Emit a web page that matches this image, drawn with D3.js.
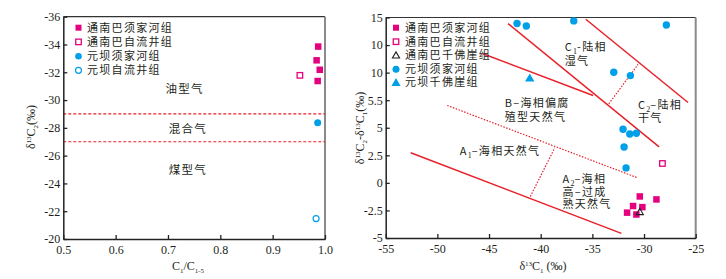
<!DOCTYPE html>
<html><head><meta charset="utf-8">
<script src="https://cdn.jsdelivr.net/npm/d3@7"></script>
<style>
body{margin:0;background:#fff}
svg{display:block}
text{fill:#231f20}
.num{font-family:"Liberation Serif","Times New Roman",serif;font-size:12px}
.cn{font-family:"Noto Sans CJK SC",sans-serif;font-size:11px;letter-spacing:1.3px}
</style>
</head><body><svg id="c" width="726" height="279"></svg>
<script>
// ---------- Left chart data (C1/C1-5 vs δ13C2) ----------
const leftLegend = ["通南巴须家河组","通南巴自流井组","元坝须家河组","元坝自流井组"];
const tnbXjhRatio = [0.987, 0.984, 0.990, 0.986];
const tnbXjhC2    = [-33.85, -32.86, -32.18, -31.37];
const tnbZljRatio = [0.952];
const tnbZljC2    = [-31.78];
const ybXjhRatio  = [0.986];
const ybXjhC2     = [-28.36];
const ybZljRatio  = [0.983];
const ybZljC2     = [-21.47];
const leftBoundaries = [-29, -27];
const leftZones = ["油型气","混合气","煤型气"];
const leftZoneX = [0.732, 0.738, 0.738];
const leftZoneY = [-30.8, -27.9, -25.0];
const leftXTicks = [0.5,0.6,0.7,0.8,0.9,1.0];
const leftXTickLabels = ["0.5","0.6","0.7","0.8","0.9","1.0"];
const leftYTicks = [-36,-34,-32,-30,-28,-26,-24,-22,-20];
const leftYTickLabels = ["-36","-34","-32","-30","-28","-26","-24","-22","-20"];

// ---------- Right chart data (δ13C1 vs δ13C2-δ13C1) ----------
const rightLegend = ["通南巴须家河组","通南巴自流井组","通南巴千佛崖组","元坝须家河组","元坝千佛崖组"];
const r_tnbXjhC1 = [-30.41, -28.8, -31.06, -30.16, -31.64, -30.74];
const r_tnbXjhD  = [-1.23, -1.5, -2.1, -2.2, -2.7, -2.87];
const r_tnbZljC1 = [-28.22];
const r_tnbZljD  = [1.76];
const r_tnbQfyC1 = [-30.41];
const r_tnbQfyD  = [-2.6];
const r_ybXjhC1  = [-42.29, -41.39, -36.8, -27.84, -32.93, -31.32, -32.03, -31.38, -30.74, -31.93, -31.74];
const r_ybXjhD   = [14.45, 14.23, 14.69, 14.32, 10.03, 9.73, 4.86, 4.43, 4.5, 3.25, 1.36];
const r_ybQfyC1  = [-41.06];
const r_ybQfyD   = [9.52];
// boundary lines: [x1,y1,x2,y2] in data units
const solidLines = [
  [-52.58, 2.73, -32.19, -4.58],
  [-43.16, 14.45, -28.54, 3.27],
  [-45.65, 11.74, -34.93, 7.93],
  [-35.64, 14.84, -25.74, 7.29]
];
const dottedLines = [
  [-49.04, 7.02, -30.68, 0.48],
  [-41.0, -1.23, -38.64, 3.18],
  [-33.41, 7.17, -30.58, 10.74]
];
const rightXTicks = [-55,-50,-45,-40,-35,-30,-25];
const rightXTickLabels = ["-55","-50","-45","-40","-35","-30","-25"];
const rightYTicks = [15,12.5,10,7.5,5,2.5,0,-2.5,-5];
const rightYTickLabels = ["15","10","10","5.5","5","2.5","0","-2.5","-5"];

const MAG = "#e5007f", CYAN = "#00a0e9", RED = "#e8202a";
const svg = d3.select("#c");

function frame(g, x, y){
  const [x0,x1] = x.range(), [y0,y1] = y.range();
  g.append("line").attr("x1",x0).attr("x2",x1).attr("y1",y1).attr("y2",y1).attr("stroke","#333").attr("stroke-width",1.2);
  g.append("line").attr("x1",x1).attr("x2",x1).attr("y1",y1).attr("y2",y0+1).attr("stroke","#8a8a8a").attr("stroke-width",2);
}
function axes(g, x, y, xt, xl, yt, yl){
  const ax = g.append("g").attr("transform",`translate(0,${y.range()[0]})`)
    .call(d3.axisBottom(x).tickValues(xt).tickFormat((d,i)=>xl[i]).tickSizeInner(-4).tickSizeOuter(0).tickPadding(6));
  const ay = g.append("g").attr("transform",`translate(${x.range()[0]},0)`)
    .call(d3.axisLeft(y).tickValues(yt).tickFormat((d,i)=>yl[i]).tickSizeInner(-4).tickSizeOuter(0).tickPadding(3));
  [ax,ay].forEach(a=>{
    a.select(".domain").attr("stroke","#222").attr("stroke-width",1.5);
    a.selectAll(".tick line").attr("stroke","#222").attr("stroke-width",1.3);
    a.selectAll("text").attr("class","num").attr("fill","#231f20").style("font-size","12px");
  });
}
function square(g, cx, cy, filled, color, s){
  g.append("rect").attr("x",cx-s/2).attr("y",cy-s/2).attr("width",s).attr("height",s)
    .attr("fill",filled?color:"#fff").attr("stroke",color).attr("stroke-width",filled?0:1.3);
}
function circle(g, cx, cy, filled, color, r){
  g.append("circle").attr("cx",cx).attr("cy",cy).attr("r",r)
    .attr("fill",filled?color:"#fff").attr("stroke",color).attr("stroke-width",filled?0:1.2);
}
function tri(g, cx, cy, filled, color, size){
  g.append("path").attr("d",d3.symbol(d3.symbolTriangle, size)()).attr("transform",`translate(${cx},${cy+1})`)
    .attr("fill",filled?color:"none").attr("stroke",color).attr("stroke-width",filled?0:1.1);
}
// multi-line text block: lines = array of arrays of parts {t, sub}
function block(g, px, py, lines, lineH){
  const t = g.append("text").attr("class","cn").attr("x",px).attr("y",py).attr("dy","0.35em");
  lines.forEach((parts,li)=>{
    let shift = 0;
    parts.forEach((p,pi)=>{
      const s = t.append("tspan");
      if(pi===0){ s.attr("x",px); if(li>0) s.attr("dy",lineH[li-1]); }
      if(p.sub){
        s.attr("dy",3).style("font-size","8px").style("letter-spacing","0px")
          .style("font-family",'"Liberation Serif",serif');
        shift = 3;
      } else if(shift && pi>0){ s.attr("dy",-shift); shift = 0; }
      s.text(p.t);
    });
  });
  return t;
}

// ================= LEFT =================
{
  const x = d3.scaleLinear().domain([0.5,1.0]).range([63.3,325]);
  const y = d3.scaleLinear().domain([-20,-36]).range([239,16.7]);
  const g = svg.append("g");
  frame(g,x,y);
  leftBoundaries.forEach(v=>{
    g.append("line").attr("x1",x(0.5)).attr("x2",x(1.0)).attr("y1",y(v)).attr("y2",y(v))
      .attr("stroke",RED).attr("stroke-width",1.2).attr("stroke-dasharray","3,2");
  });
  leftZones.forEach((t,i)=>{
    g.append("text").attr("class","cn").attr("x",x(leftZoneX[i])).attr("y",y(leftZoneY[i])).attr("dy","0.35em")
      .attr("text-anchor","middle").style("font-size","11.5px").text(t);
  });
  tnbXjhRatio.forEach((v,i)=>square(g,x(v),y(tnbXjhC2[i]),true,MAG,6.5));
  tnbZljRatio.forEach((v,i)=>square(g,x(v),y(tnbZljC2[i]),false,MAG,5.5));
  ybXjhRatio.forEach((v,i)=>circle(g,x(v),y(ybXjhC2[i]),true,CYAN,3.5));
  ybZljRatio.forEach((v,i)=>circle(g,x(v),y(ybZljC2[i]),false,CYAN,3));
  axes(g,x,y,leftXTicks,leftXTickLabels,leftYTicks,leftYTickLabels);
  // legend
  const ly = [27.7,41.9,56.3,70.3];
  leftLegend.forEach((t,i)=>{
    const cy = ly[i];
    if(i===0) square(g,78.5,cy,true,MAG,6);
    if(i===1) square(g,78.5,cy,false,MAG,5.5);
    if(i===2) circle(g,78.5,cy,true,CYAN,3.3);
    if(i===3) circle(g,78.5,cy,false,CYAN,3);
  });
  block(g, 87, ly[0], leftLegend.map(t=>[{t}]), ly.slice(1).map((v,i)=>v-ly[i]));
  // axis titles
  const yt = g.append("text").attr("class","num").attr("transform","translate(35,127) rotate(-90)").attr("text-anchor","middle");
  yt.append("tspan").text("δ");
  yt.append("tspan").attr("dy",-4).style("font-size","7px").text("13");
  yt.append("tspan").attr("dy",4).text("C");
  yt.append("tspan").attr("dy",3).style("font-size","7px").text("2");
  yt.append("tspan").attr("dy",-3).text("(‰)");
  const xt = g.append("text").attr("class","num").attr("x",188).attr("y",270).attr("text-anchor","middle");
  xt.append("tspan").text("C");
  xt.append("tspan").attr("dy",3).style("font-size","7px").text("1");
  xt.append("tspan").attr("dy",-3).text("/C");
  xt.append("tspan").attr("dy",3).style("font-size","7px").text("1-5");
}

// ================= RIGHT =================
{
  const x = d3.scaleLinear().domain([-55,-25]).range([385.7,695.7]);
  const y = d3.scaleLinear().domain([-5,15]).range([238,17.5]);
  const g = svg.append("g");
  frame(g,x,y);
  solidLines.forEach(l=>{
    g.append("line").attr("x1",x(l[0])).attr("y1",y(l[1])).attr("x2",x(l[2])).attr("y2",y(l[3]))
      .attr("stroke",RED).attr("stroke-width",1.5);
  });
  dottedLines.forEach(l=>{
    g.append("line").attr("x1",x(l[0])).attr("y1",y(l[1])).attr("x2",x(l[2])).attr("y2",y(l[3]))
      .attr("stroke",RED).attr("stroke-width",1.2).attr("stroke-dasharray","1.5,1.5");
  });
  // region labels (data-unit anchors)
  block(g, x(-37.67), y(12.3), [[{t:"C"},{t:"1",sub:true},{t:"-陆相"}],[{t:"湿气"}]], [13.7]);
  block(g, x(-43.48), y(7.25), [[{t:"B–海相偏腐"}],[{t:"殖型天然气"}]], [14]);
  block(g, x(-30.58), y(7.05), [[{t:"C"},{t:"2",sub:true},{t:"–陆相"}],[{t:"干气"}]], [13.3]);
  block(g, x(-47.84), y(2.9), [[{t:"A"},{t:"1",sub:true},{t:"–海相天然气"}]], []);
  block(g, x(-37.9), y(0.38), [[{t:"A"},{t:"2",sub:true},{t:"–海相"}],[{t:"高–过成"}],[{t:"熟天然气"}]], [13.4,11.8]);

  r_ybXjhC1.forEach((v,i)=>circle(g,x(v),y(r_ybXjhD[i]),true,CYAN,3.7));
  r_ybQfyC1.forEach((v,i)=>tri(g,x(v),y(r_ybQfyD[i]),true,CYAN,38));
  r_tnbXjhC1.forEach((v,i)=>square(g,x(v),y(r_tnbXjhD[i]),true,MAG,6.5));
  r_tnbZljC1.forEach((v,i)=>square(g,x(v),y(r_tnbZljD[i]),false,MAG,5.5));
  r_tnbQfyC1.forEach((v,i)=>tri(g,x(v),y(r_tnbQfyD[i]),false,"#231f20",22));
  axes(g,x,y,rightXTicks,rightXTickLabels,rightYTicks,rightYTickLabels);
  // legend
  const ly = [27.7,41.7,55.0,69.3,82.3];
  rightLegend.forEach((t,i)=>{
    const cy = ly[i];
    if(i===0) square(g,396,cy,true,MAG,6);
    if(i===1) square(g,396,cy,false,MAG,5.5);
    if(i===2) tri(g,396,cy,false,"#231f20",22);
    if(i===3) circle(g,396,cy,true,CYAN,3.5);
    if(i===4) tri(g,396,cy,true,CYAN,36);
  });
  block(g, 405, ly[0], rightLegend.map(t=>[{t}]), ly.slice(1).map((v,i)=>v-ly[i]));
  // axis titles
  const yt = g.append("text").attr("class","num").attr("transform","translate(364,128) rotate(-90)").attr("text-anchor","middle");
  yt.append("tspan").text("δ");
  yt.append("tspan").attr("dy",-4).style("font-size","7px").text("13");
  yt.append("tspan").attr("dy",4).text("C");
  yt.append("tspan").attr("dy",3).style("font-size","7px").text("2");
  yt.append("tspan").attr("dy",-3).text("-δ");
  yt.append("tspan").attr("dy",-4).style("font-size","7px").text("13");
  yt.append("tspan").attr("dy",4).text("C");
  yt.append("tspan").attr("dy",3).style("font-size","7px").text("1");
  yt.append("tspan").attr("dy",-3).text("(‰)");
  const xt = g.append("text").attr("class","num").attr("x",543).attr("y",270).attr("text-anchor","middle");
  xt.append("tspan").text("δ");
  xt.append("tspan").attr("dy",-4).style("font-size","7px").text("13");
  xt.append("tspan").attr("dy",4).text("C");
  xt.append("tspan").attr("dy",3).style("font-size","7px").text("1");
  xt.append("tspan").attr("dy",-3).text(" (‰)");
}
</script>
</body></html>
